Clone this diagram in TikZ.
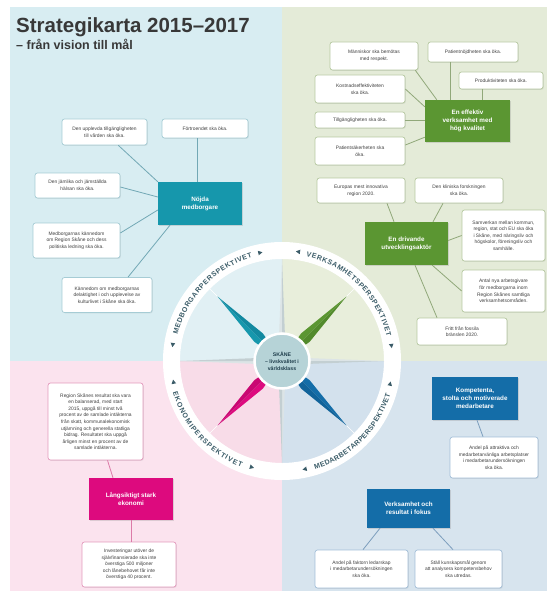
\documentclass[tikz,border=0pt]{standalone}
\usepackage{fontspec}
\setmainfont{Liberation Sans}
\usetikzlibrary{decorations.text,shadows,calc}

% quadrant backgrounds (outside and inside the compass disk)
\definecolor{bgTL}{HTML}{D8EDF2}
\definecolor{bgTR}{HTML}{E4EBD8}
\definecolor{bgBL}{HTML}{FBE3EE}
\definecolor{bgBR}{HTML}{D7E4EE}
\definecolor{inTL}{HTML}{E1F0F4}
\definecolor{inTR}{HTML}{E8EEDB}
\definecolor{inBL}{HTML}{F8DCE8}
\definecolor{inBR}{HTML}{D3E1ED}
% goal boxes / needles
\definecolor{cTeal}{HTML}{1697AC}
\definecolor{cTealD}{HTML}{1289A0}
\definecolor{cGreen}{HTML}{5B9632}
\definecolor{cGreenD}{HTML}{528A2C}
\definecolor{cMagenta}{HTML}{DD0A7E}
\definecolor{cMagentaD}{HTML}{C90772}
\definecolor{cBlue}{HTML}{146DA8}
\definecolor{cBlueD}{HTML}{11639A}
% box edges and connectors
\definecolor{edTL}{HTML}{A6CCD5}
\definecolor{edTR}{HTML}{B7C9A2}
\definecolor{edBL}{HTML}{E49ABD}
\definecolor{edBR}{HTML}{A3BFD8}
\definecolor{lnTL}{HTML}{72A8B5}
\definecolor{lnTR}{HTML}{91A87A}
\definecolor{lnBL}{HTML}{DC7BA8}
\definecolor{lnBR}{HTML}{7C9EBD}
% compass
\definecolor{ringtxt}{HTML}{3B5C68}
\definecolor{hubfill}{HTML}{B6D3D7}
\definecolor{hubtxt}{HTML}{1E3D4B}
\definecolor{titlegray}{HTML}{383838}
\definecolor{needleA}{HTML}{DCE4E6}
\definecolor{needleB}{HTML}{C3CFD2}

\tikzset{
  sz/.style 2 args={minimum width=#1pt, minimum height=#2pt},
  leaf/.style={draw=#1, fill=white, rounded corners=2.5pt, line width=0.7pt, align=center,
    font=\fontsize{4.9}{6.6}\selectfont, text=black!75, inner sep=1pt,
    drop shadow={opacity=0.18, shadow xshift=0.8pt, shadow yshift=-0.8pt}},
  goal/.style={fill=#1, text=white, align=center, font=\fontsize{6.3}{8.2}\selectfont\bfseries,
    inner sep=2pt, drop shadow={opacity=0.25, shadow xshift=1pt, shadow yshift=-1pt}},
  link/.style={draw=#1, line width=0.8pt},
  ringtext/.style={decorate, decoration={text along path, text align=fit to path,
    text color=ringtxt, text={|\fontsize{7}{7}\selectfont\bfseries|#1}}},
}

% kite-shaped compass needle: angle, length, widest distance, half width, light, dark
\newcommand{\compassneedle}[6]{%
  \begin{scope}[shift={(hubc)}, rotate=#1]
    \fill[#5] (0,0) -- (#3,#4) -- (#2,0) -- cycle;
    \fill[#6] (0,0) -- (#3,-#4) -- (#2,0) -- cycle;
  \end{scope}}

% small triangle on the ring: angle, +1 points counter-clockwise, -1 clockwise
\newcommand{\ringmark}[2]{%
  \begin{scope}[shift={(hubc)}, rotate=#1]
    \fill[ringtxt] (108.2,-1.7*#2) -- (112.8,-1.7*#2) -- (110.5,2.5*#2) -- cycle;
  \end{scope}}

\begin{document}
\begin{tikzpicture}[x=1pt, y=1pt]
\useasboundingbox (0,0) rectangle (547,-591);
\fill[white] (0,0) rectangle (547,-591);

% four perspective fields
\fill[bgTL] (10,-7) rectangle (282,-361);
\fill[bgTR] (282,-7) rectangle (547,-361);
\fill[bgBL] (10,-361) rectangle (282,-591);
\fill[bgBR] (282,-361) rectangle (547,-591);

% title
\node[anchor=base west, inner sep=0, text=titlegray,
      font=\fontsize{20.5}{20.5}\selectfont\bfseries] (title) at (16,-33) {Strategikarta 2015–2017};
\node[anchor=base west, inner sep=0, text=titlegray,
      font=\fontsize{12.5}{12.5}\selectfont\bfseries] (subtitle) at (16,-50) {– från vision till mål};

% ---------------- compass ----------------
\coordinate (hubc) at (282,-361);
\fill[inTR] (hubc) -- ++(0:102) arc[start angle=0, end angle=90, radius=102] -- cycle;
\fill[inTL] (hubc) -- ++(90:102) arc[start angle=90, end angle=180, radius=102] -- cycle;
\fill[inBL] (hubc) -- ++(180:102) arc[start angle=180, end angle=270, radius=102] -- cycle;
\fill[inBR] (hubc) -- ++(270:102) arc[start angle=270, end angle=360, radius=102] -- cycle;
\fill[white, even odd rule] (hubc) circle[radius=119] (hubc) circle[radius=102];

% faint continuations of the diagonal needles
\foreach \a in {45,135,225,315}
  {\draw[white, line width=0.6pt] ($(hubc)+(\a:85)$) -- ($(hubc)+(\a:102)$);}

% cardinal needles
\foreach \a in {0,90,180,270}
  {\compassneedle{\a}{102}{24}{3}{needleA}{needleB}}
% coloured needles
\compassneedle{45}{91}{33}{6}{cGreen}{cGreenD}
\compassneedle{135}{91}{33}{6}{cTeal}{cTealD}
\compassneedle{225}{91}{33}{6}{cMagenta}{cMagentaD}
\compassneedle{315}{91}{33}{6}{cBlue}{cBlueD}

\node[circle, fill=hubfill, draw=white, line width=2.5pt, minimum size=55pt, inner sep=0,
      align=center, text=hubtxt, font=\fontsize{5.2}{7}\selectfont\bfseries] (hub) at (hubc)
      {SKÅNE\\– livskvalitet i\\världsklass};

% perspective names on the ring
\path[ringtext=MEDBORGARPERSPEKTIVET] ($(hubc)+(166:107.5)$) arc[start angle=166, end angle=106, radius=107.5];
\path[ringtext=VERKSAMHETSPERSPEKTIVET] ($(hubc)+(77:107.5)$) arc[start angle=77, end angle=13, radius=107.5];
\path[ringtext=MEDARBETARPERSPEKTIVET] ($(hubc)+(-73:113.5)$) arc[start angle=-73, end angle=-17, radius=113.5];
\path[ringtext=EKONOMIPERSPEKTIVET] ($(hubc)+(196:113.5)$) arc[start angle=196, end angle=249, radius=113.5];

\ringmark{171.5}{1}
\ringmark{101.5}{-1}
\ringmark{81.5}{1}
\ringmark{8}{-1}
\ringmark{-78}{-1}
\ringmark{-12}{1}
\ringmark{191}{-1}
\ringmark{254}{1}

% ---------------- Medborgarperspektivet ----------------
\node[leaf=edTL, sz={85}{26}] (tl1) at (104.5,-132) {Den upplevda tillgängligheten\\till vården ska öka.};
\node[leaf=edTL, sz={86}{19}] (tl2) at (205,-128.5) {Förtroendet ska öka.};
\node[leaf=edTL, sz={85}{25}] (tl3) at (77.5,-185.5) {Den jämlika och jämställda\\hälsan ska öka.};
\node[goal=cTeal, sz={84}{43}] (tlm) at (200,-203.5) {Nöjda\\medborgare};
\node[leaf=edTL, sz={87}{35}] (tl4) at (76.5,-240.5) {Medborgarnas kännedom\\om Region Skåne och dess\\politiska ledning ska öka.};
\node[leaf=edTL, sz={90}{35}] (tl5) at (107,-295) {Kännedom om medborgarnas\\delaktighet i och upplevelse av\\kulturlivet i Skåne ska öka.};

\draw[link=lnTL] ([xshift=-29pt]tl1.south east) -- (tlm.north west);
\draw[link=lnTL] ([xshift=-8pt]tl2.south) -- ([xshift=-8pt]tl2.south |- tlm.north);
\draw[link=lnTL] ([yshift=-1.5pt]tl3.east) -- ([yshift=6.5pt]tlm.west);
\draw[link=lnTL] ([yshift=7.5pt]tl4.east) -- ([yshift=-6.5pt]tlm.west);
\draw[link=lnTL] ([xshift=21pt]tl5.north) -- ([xshift=-30pt]tlm.south);

% ---------------- Verksamhetsperspektivet ----------------
\node[leaf=edTR, sz={88}{28}] (tr1) at (374,-56) {Människor ska bemötas\\med respekt.};
\node[leaf=edTR, sz={90}{20}] (tr2) at (473,-52) {Patientnöjdheten ska öka.};
\node[leaf=edTR, sz={84}{17}] (tr3) at (501,-80.5) {Produktiviteten ska öka.};
\node[leaf=edTR, sz={90}{28}] (tr4) at (360,-89) {Kostnadseffektiviteten\\ska öka.};
\node[leaf=edTR, sz={90}{16}] (tr5) at (360,-120) {Tillgängligheten ska öka.};
\node[goal=cGreen, sz={85}{42}] (trm) at (467.5,-121) {En effektiv\\verksamhet med\\hög kvalitet};
\node[leaf=edTR, sz={90}{28}] (tr6) at (360,-151) {Patientsäkerheten ska\\öka.};

\draw[link=lnTR] ([xshift=-3pt]tr1.south east) -- ([xshift=12pt]trm.north west);
\draw[link=lnTR] ([xshift=-23pt]tr2.south) -- ([xshift=-23pt]tr2.south |- trm.north);
\draw[link=lnTR] ([xshift=-19pt]tr3.south) -- ([xshift=-19pt]tr3.south |- trm.north);
\draw[link=lnTR] (tr4.east) -- ([yshift=-7pt]trm.north west);
\draw[link=lnTR] (tr5.east) -- (tr5.east -| trm.west);
\draw[link=lnTR] ([yshift=6pt]tr6.east) -- ([yshift=5pt]trm.south west);

\node[leaf=edTR, sz={88}{25}] (tr7) at (361,-190.5) {Europas mest innovativa\\region 2020.};
\node[leaf=edTR, sz={88}{25}] (tr8) at (459,-190.5) {Den kliniska forskningen\\ska öka.};
\node[goal=cGreen, sz={83}{43}] (trm2) at (406.5,-243.5) {En drivande\\utvecklingsaktör};
\node[leaf=edTR, sz={83}{51}] (tr9) at (503.5,-235.5) {Samverkan mellan kommun,\\region, stat och EU ska öka\\i Skåne, med näringsliv och\\högskolor, föreningsliv och\\samhälle.};
\node[leaf=edTR, sz={83}{42}] (tr10) at (503.5,-291) {Antal nya arbetsgivare\\för medborgarna inom\\Region Skånes samtliga\\verksamhetsområden.};
\node[leaf=edTR, sz={90}{27}] (tr11) at (462,-331.5) {Fritt från fossila\\bränslen 2020.};

\draw[link=lnTR] ([xshift=26pt]tr7.south) -- ([xshift=-12.5pt]trm2.north);
\draw[link=lnTR] ([xshift=-16pt]tr8.south) -- ([xshift=26.5pt]trm2.north);
\draw[link=lnTR] (tr9.west) -- ([yshift=3pt]trm2.east);
\draw[link=lnTR] (tr10.west) -- ([xshift=-16pt]trm2.south east);
\draw[link=lnTR] ([xshift=-25pt]tr11.north) -- ([xshift=8.5pt]trm2.south);

% ---------------- Ekonomiperspektivet ----------------
\node[leaf=edBL, sz={95}{77}] (bl1) at (95.5,-421.5) {Region Skånes resultat ska vara\\en balanserad, med start\\2015, uppgå till minst två\\procent av de samlade intäkterna\\från skatt, kommunalekonomisk\\utjämning och generella statliga\\bidrag. Resultatet ska uppgå\\årligen minst en procent av de\\samlade intäkterna.};
\node[goal=cMagenta, sz={84}{42}] (blm) at (131,-499) {Långsiktigt stark\\ekonomi};
\node[leaf=edBL, sz={94}{45}] (bl2) at (129,-564.5) {Investeringar utöver de\\självfinansierade ska inte\\överstiga 500 miljoner\\och lånebehovet får inte\\överstiga 40 procent.};

\draw[link=lnBL] ([xshift=12pt]bl1.south) -- ([xshift=-18pt]blm.north);
\draw[link=lnBL] (blm.south) -- (blm.south |- bl2.north);

% ---------------- Medarbetarperspektivet ----------------
\node[goal=cBlue, sz={86}{43}] (brm1) at (475,-398.5) {Kompetenta,\\stolta och motiverade\\medarbetare};
\node[leaf=edBR, sz={88}{41}] (br1) at (494,-457.5) {Andel på attraktiva och\\medarbetarvänliga arbetsplatser\\i medarbetarundersökningen\\ska öka.};
\node[goal=cBlue, sz={83}{39}] (brm2) at (408.5,-508.5) {Verksamhet och\\resultat i fokus};
\node[leaf=edBR, sz={93}{38}] (br2) at (361.5,-569) {Andel på faktorn ledarskap\\i medarbetarundersökningen\\ska öka.};
\node[leaf=edBR, sz={87}{38}] (br3) at (458.5,-569) {Ställ kunskapsmål genom\\att analysera kompetensbehov\\ska utredas.};

\draw[link=lnBR] ([xshift=2pt]brm1.south) -- ([xshift=-11pt]br1.north);
\draw[link=lnBR] ([xshift=-28.5pt]brm2.south) -- ([xshift=1.5pt]br2.north);
\draw[link=lnBR] ([xshift=24.5pt]brm2.south) -- ([xshift=-5.5pt]br3.north);

\end{tikzpicture}
\end{document}
